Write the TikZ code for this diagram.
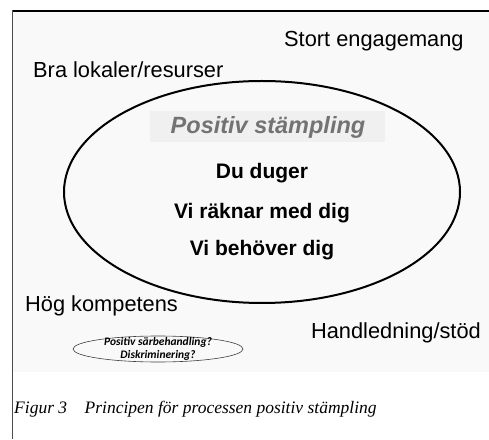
\documentclass[tikz,border=0pt]{standalone}
\usepackage{fontspec}
\setmainfont{Liberation Sans}
\newfontfamily\capfont{Liberation Serif}
\newfontfamily\smallfont{Carlito}
\begin{document}
\begin{tikzpicture}[x=1pt,y=1pt,
  lbl/.style={anchor=base west,inner sep=0pt,font=\fontsize{21.8}{24}\selectfont},
  inner/.style={anchor=base,inner sep=0pt,font=\fontsize{21}{24}\selectfont\bfseries},
  small/.style={inner sep=0pt,font=\smallfont\fontsize{11.5}{13}\selectfont\bfseries\itshape}]
\useasboundingbox (0,0) rectangle (489,439);
\fill[white] (0,0) rectangle (489,439);
\fill[gray!5] (13,67) rectangle (489,428);
\draw[line width=1.2pt,black] (12.5,428) -- (489,428);
\draw[line width=1.5pt,gray!60!black] (12.5,428.6) -- (12.5,0);
% big ellipse
\draw[line width=2pt] (262,247) ellipse [x radius=198, y radius=111];
% title box
\fill[gray!12] (150,297) rectangle (385,328);
\node[anchor=base,inner sep=0pt,text=gray!90!black,font=\fontsize{23.5}{26}\selectfont\bfseries\itshape] (title) at (268,305) {Positiv stämpling};
\node[inner] (d1) at (262,260) {Du duger};
\node[inner] (d2) at (262,220) {Vi räknar med dig};
\node[inner] (d3) at (262,183) {Vi behöver dig};
% outside labels
\node[lbl] (se) at (284,392) {Stort engagemang};
\node[lbl] (bl) at (33,361) {Bra lokaler/resurser};
\node[lbl] (hk) at (25,128) {Hög kompetens};
\node[lbl,anchor=base east] (hs) at (481,101) {Handledning/stöd};
% small ellipse
\draw[line width=0.6pt,gray!50!black] (158,90) ellipse [x radius=85, y radius=13];
\node[small] (s1) at (158,97) {Positiv särbehandling?};
\node[small] (s2) at (158,84) {Diskriminering?};
% caption
\node[anchor=base west,inner sep=0pt,font=\capfont\itshape\fontsize{17.5}{20}\selectfont] (cap) at (14,26) {Figur 3\hspace{1.0em}Principen för processen positiv stämpling};
\end{tikzpicture}
\end{document}
